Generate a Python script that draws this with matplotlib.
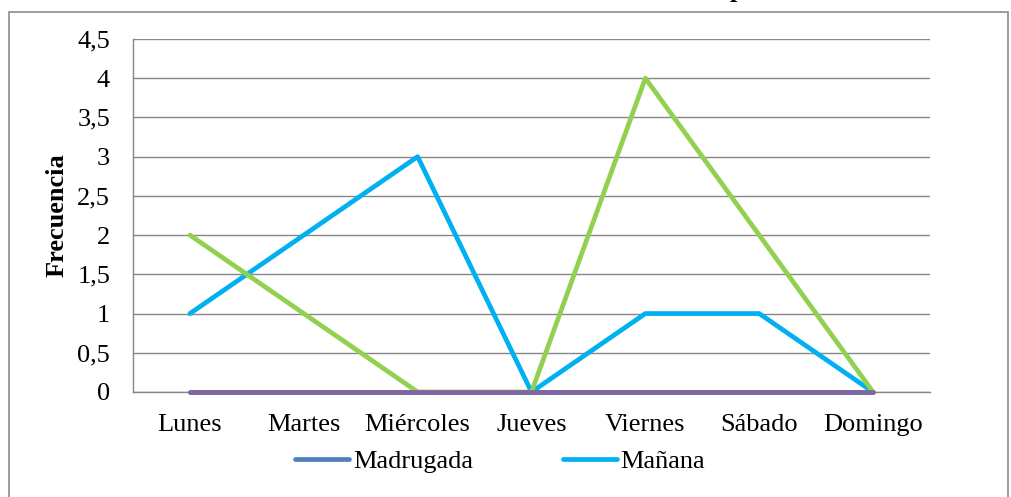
import matplotlib
matplotlib.use("Agg")
import matplotlib.pyplot as plt
from matplotlib.patches import Rectangle
from matplotlib.lines import Line2D

days = ["Lunes", "Martes", "Miércoles", "Jueves", "Viernes", "Sábado", "Domingo"]
madrugada = [0, 0, 0, 0, 0, 0, 0]
manana = [1, 2, 3, 0, 1, 1, 0]
tarde = [2, 1, 0, 0, 4, 2, 0]
noche = [0, 0, 0, 0, 0, 0, 0]
yticks = [0, 0.5, 1, 1.5, 2, 2.5, 3, 3.5, 4, 4.5]
ytick_labels = ["0", "0,5", "1", "1,5", "2", "2,5", "3", "3,5", "4", "4,5"]

plt.rcParams['font.family'] = ['Liberation Serif', 'DejaVu Serif']

W, H = 1011, 497
FS = 19
fig = plt.figure(figsize=(W / 100, H / 100), dpi=100)
ax = fig.add_axes([133 / W, 1 - 392 / H, (930 - 133) / W, (392 - 39) / H])

x = list(range(len(days)))
lw = 3.4
kw = dict(lw=lw, solid_capstyle="round", clip_on=False, zorder=3)
ax.plot(x, madrugada, color="#4F81BD", label="Madrugada", **kw)
ax.plot(x, manana, color="#00B0F0", label="Mañana", **kw)
ax.plot(x, tarde, color="#92D050", **kw)
ax.plot(x, noche, color="#8064A2", **kw)

ax.set_xlim(-0.5, 6.5)
ax.set_ylim(0, 4.5)
ax.set_yticks(yticks)
ax.set_yticklabels(ytick_labels, fontsize=FS)
ax.set_xticks(x)
ax.set_xticklabels(days, fontsize=FS)
ax.tick_params(axis='both', length=0)
ax.tick_params(axis='y', pad=16.5)
ax.tick_params(axis='x', pad=16)
ax.grid(axis='y', color="#868686", lw=1)
ax.set_axisbelow(True)
for s in ["top", "right"]:
    ax.spines[s].set_visible(False)
for s in ["left", "bottom"]:
    ax.spines[s].set_color("#868686")
    ax.spines[s].set_linewidth(1)
ax.set_ylabel("Frecuencia", fontsize=FS, fontweight="bold", labelpad=6)

handles = [Line2D([], [], color="#4F81BD", lw=lw, solid_capstyle="round"),
           Line2D([], [], color="#00B0F0", lw=lw, solid_capstyle="round")]
fig.legend(handles, ["Madrugada", "Mañana"], loc="center",
           bbox_to_anchor=(500 / W, 1 - 461 / H), ncol=2, frameon=False,
           fontsize=FS, handlelength=2.05, handletextpad=0.15, columnspacing=3.4,
           borderpad=0)

# outer frame
fig.patches.append(Rectangle((9 / W, -0.1), (1008 - 9) / W, 1 - 12 / H + 0.1,
                             transform=fig.transFigure, fill=False,
                             edgecolor="#8C8C8C", lw=1.2))
# clipped title remnant (cut off at the top edge, as in the reference)
fig.text(737 / W, 1 + 2.5 / H, "p", fontsize=FS, fontweight="bold",
         ha="center", va="baseline")

fig.savefig("out.png", dpi=100)
